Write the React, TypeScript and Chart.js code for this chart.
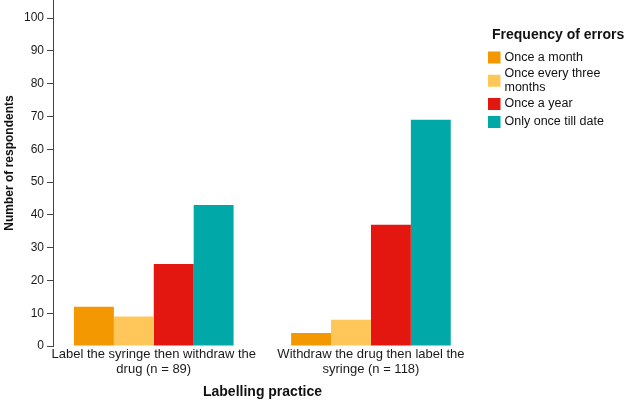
import React, { useEffect, useRef } from 'react';
import { Chart, registerables } from 'chart.js';

Chart.register(...registerables);

// ---- data ----
const categories: string[][] = [
  ['Label the syringe then withdraw the', 'drug (n = 89)'],
  ['Withdraw the drug then label the', 'syringe (n = 118)'],
];
const seriesNames = ['Once a month', 'Once every three months', 'Once a year', 'Only once till date'];
const onceAMonth = [12, 4];
const onceEveryThreeMonths = [9, 8];
const onceAYear = [25, 37];
const onlyOnceTillDate = [43, 69];
const yTickValues = [0, 10, 20, 30, 40, 50, 60, 70, 80, 90, 100];
const seriesColors = ['#F39800', '#FFC65A', '#E3170F', '#00A8A8'];
const legendTitle = 'Frequency of errors';
const xTitle = 'Labelling practice';
const yTitle = 'Number of respondents';

const FONT = "'Liberation Sans', Arial, Helvetica, sans-serif";

const legendPlugin = {
  id: 'customLegend',
  afterDraw(chart: any) {
    const ctx = chart.ctx;
    ctx.save();
    const x0 = 488;
    ctx.fillStyle = '#111';
    ctx.font = `bold 14px ${FONT}`;
    ctx.textBaseline = 'middle';
    ctx.textAlign = 'left';
    ctx.fillText(legendTitle, 492, 35);
    ctx.font = `12.5px ${FONT}`;
    let top = 48.5;
    const maxW = 118;
    chart.data.datasets.forEach((ds: any) => {
      const words = String(ds.label).split(' ');
      const lines: string[] = [];
      let cur = '';
      words.forEach((w) => {
        const t = cur ? cur + ' ' + w : w;
        if (ctx.measureText(t).width > maxW && cur) {
          lines.push(cur);
          cur = w;
        } else cur = t;
      });
      if (cur) lines.push(cur);
      const h = Math.max(18, lines.length * 14 + 0.5);
      const cy = top + h / 2;
      ctx.fillStyle = ds.backgroundColor;
      ctx.fillRect(x0, cy - 6, 12.5, 12);
      ctx.fillStyle = '#111';
      lines.forEach((ln, i) => {
        const ly = cy - ((lines.length - 1) * 14) / 2 + i * 14;
        ctx.fillText(ln, 504.5, ly);
      });
      top += h;
    });
    ctx.restore();
  },
};

export default function App() {
  const ref = useRef<HTMLCanvasElement | null>(null);
  useEffect(() => {
    if (!ref.current) return;
    const seriesValues = [onceAMonth, onceEveryThreeMonths, onceAYear, onlyOnceTillDate];
    const chart = new Chart(ref.current, {
      type: 'bar',
      data: {
        datasets: seriesNames.map((name, s) => ({
          label: name,
          data: seriesValues[s].map((v, i) => ({ x: i, y: v })),
          backgroundColor: seriesColors[s],
          borderWidth: 0,
          categoryPercentage: 0.735,
          barPercentage: 1,
        })),
      },
      options: {
        animation: false,
        responsive: false,
        layout: { padding: { left: 0, top: 0, right: 152, bottom: 0 } },
        plugins: { legend: { display: false }, tooltip: { enabled: false } },
        scales: {
          x: {
            type: 'linear',
            offset: false,
            min: -0.464,
            max: 1.4653,
            grid: { display: false, offset: false, drawTicks: false, tickLength: 0 },
            border: { display: false },
            afterBuildTicks: (scale: any) => {
              scale.ticks = categories.map((_, i) => ({ value: i }));
            },
            afterFit: (scale: any) => {
              scale.height = 55;
              scale.paddingLeft = 0;
              scale.paddingRight = 0;
            },
            ticks: {
              autoSkip: false,
              maxRotation: 0,
              minRotation: 0,
              padding: 1,
              color: '#1a1a1a',
              font: { family: FONT, size: 13, lineHeight: 1.15 },
              callback: (v: any) => categories[Math.round(Number(v))] ?? '',
            },
            title: {
              display: true,
              text: xTitle,
              color: '#111',
              font: { family: FONT, size: 14, weight: 'bold', lineHeight: 1.2 },
              padding: { top: 0, bottom: 0 },
            },
          },
          y: {
            type: 'linear',
            min: 0,
            max: 105.49,
            afterBuildTicks: (scale: any) => {
              scale.ticks = yTickValues.map((v) => ({ value: v }));
            },
            afterFit: (scale: any) => {
              scale.width = 53;
              scale.paddingTop = 0;
              scale.paddingBottom = 0;
            },
            grid: { drawOnChartArea: false, drawTicks: true, tickLength: 6, color: '#444', lineWidth: 1 },
            border: { display: true, color: '#444', width: 1 },
            ticks: {
              padding: 3,
              color: '#1a1a1a',
              font: { family: FONT, size: 12 },
            },
            title: {
              display: true,
              text: '      ' + yTitle,
              color: '#111',
              font: { family: FONT, size: 12, weight: 'bold', lineHeight: 1.2 },
              padding: { top: 2.5, bottom: 0 },
            },
          },
        },
      } as any,
      plugins: [legendPlugin],
    });
    return () => chart.destroy();
  }, []);
  return (
    <div style={{ position: 'fixed', left: 0, top: 0, width: 624, height: 401, background: '#fff' }}>
      <canvas ref={ref} width={624} height={401} style={{ display: 'block' }} />
    </div>
  );
}
